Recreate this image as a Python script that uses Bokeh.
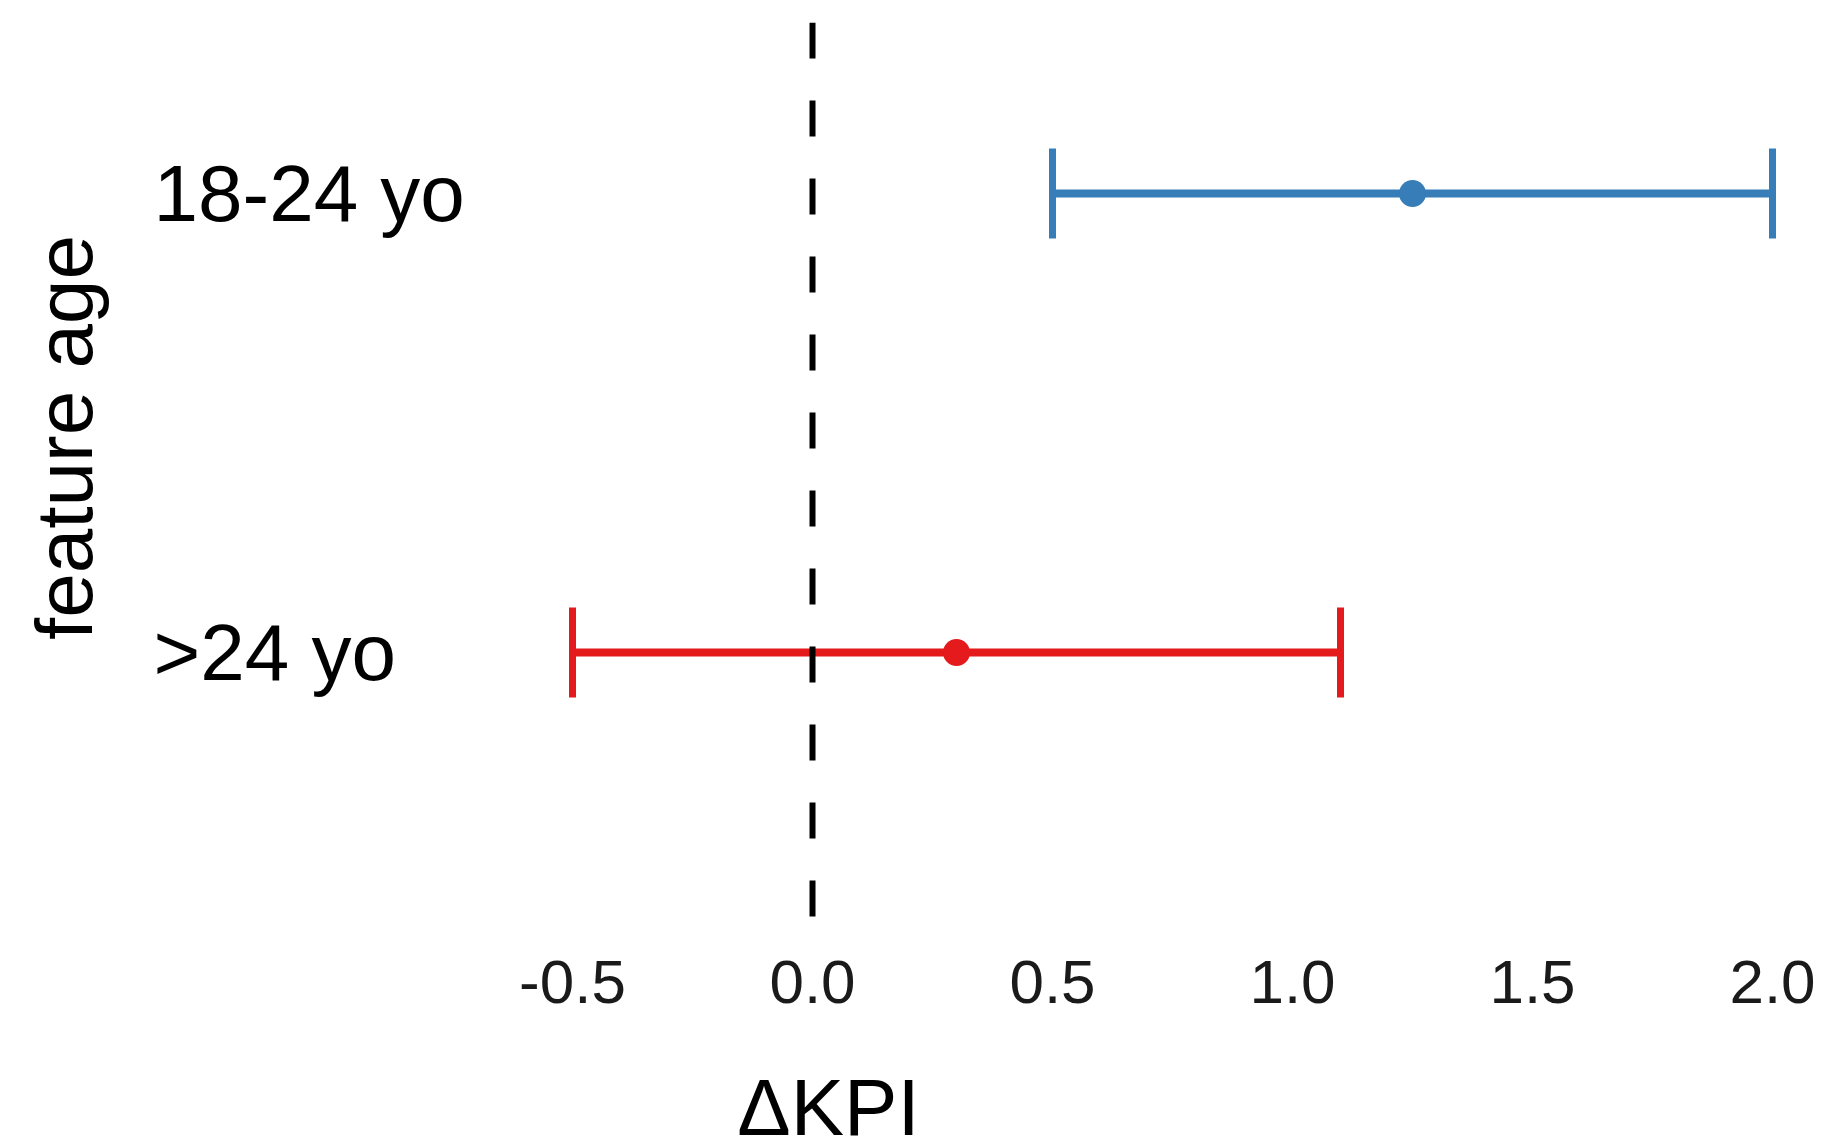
from bokeh.plotting import figure
from bokeh.models import (ColumnDataSource, Range1d, FixedTicker, NumeralTickFormatter,
                          Whisker, TeeHead, Label, LabelSet)
from bokeh.core.properties import value
from bokeh.embed import file_html
from bokeh.resources import INLINE

# ---- data ----
categories = ["18-24 yo", ">24 yo"]
estimate = [1.25, 0.30]
ci_low = [0.5, -0.5]
ci_high = [2.0, 1.1]
colors = ["#377EB8", "#E41A1C"]
x_ticks = [-0.5, 0.0, 0.5, 1.0, 1.5, 2.0]
ref_x = 0.0
x_title = "ΔKPI"
y_title = "feature age"

FONT = "Liberation Sans"
n = len(categories)
ypos = [n - 1 - i for i in range(n)]

# panel (data) extent in y: the plotting panel sits above the x axis
Y_TOP = 1.3725
Y_PANEL_BOTTOM = -0.5795

src = ColumnDataSource(dict(cat=categories, y=ypos, est=estimate,
                            lo=ci_low, hi=ci_high, color=colors))

p = figure(width=1823, height=1138, output_backend="svg", toolbar_location=None,
           x_range=Range1d(-1.6917, 2.10625), y_range=Range1d(-1.0588, Y_TOP),
           y_axis_location=None, min_border_left=0, min_border_right=0,
           min_border_top=22, min_border_bottom=0)
p.outline_line_color = None
p.xgrid.visible = False
p.ygrid.visible = False
p.background_fill_color = "white"

# x axis, drawn at the bottom of the plotting panel
ax = p.xaxis[0]
ax.fixed_location = Y_PANEL_BOTTOM
ax.ticker = FixedTicker(ticks=x_ticks)
ax.formatter = NumeralTickFormatter(format="0.0")
ax.axis_line_color = None
ax.major_tick_line_color = None
ax.minor_tick_line_color = None
ax.major_tick_out = 0
ax.major_label_standoff = 43
ax.major_label_text_font = FONT
ax.major_label_text_font_size = "62px"
ax.major_label_text_color = "#1a1a1a"

# reference line at zero (drawn top -> bottom of panel)
p.segment(x0=[ref_x], y0=[Y_TOP], x1=[ref_x], y1=[Y_PANEL_BOTTOM],
          line_color="black", line_width=6, line_dash="36 42")

# error bars
for i in range(n):
    s = ColumnDataSource(dict(y=[ypos[i]], lo=[ci_low[i]], hi=[ci_high[i]]))
    w = Whisker(source=s, base="y", lower="lo", upper="hi", dimension="width",
                line_color=colors[i], line_width=8,
                lower_head=TeeHead(size=90, line_color=colors[i], line_width=7),
                upper_head=TeeHead(size=90, line_color=colors[i], line_width=7))
    p.add_layout(w)

p.scatter(x="est", y="y", source=src, size=27, color="color", line_width=0)

# category labels (left aligned)
p.add_layout(LabelSet(x=-1.3729, y="y", text="cat", source=src,
                      text_font=value(FONT), text_font_size=value("80px"),
                      text_color="black",
                      text_align="left", text_baseline="middle"))

# axis titles
p.add_layout(Label(x=-1.5583, y=0.4684, text=y_title, angle=1.5707963,
                   text_font=FONT, text_font_size="80px", text_color="black",
                   text_align="center", text_baseline="alphabetic"))
p.add_layout(Label(x=0.0333, y=-0.9913, text=x_title,
                   text_font=FONT, text_font_size="80px", text_color="black",
                   text_align="center", text_baseline="alphabetic"))

open("out.html", "w").write(file_html(p, INLINE))
